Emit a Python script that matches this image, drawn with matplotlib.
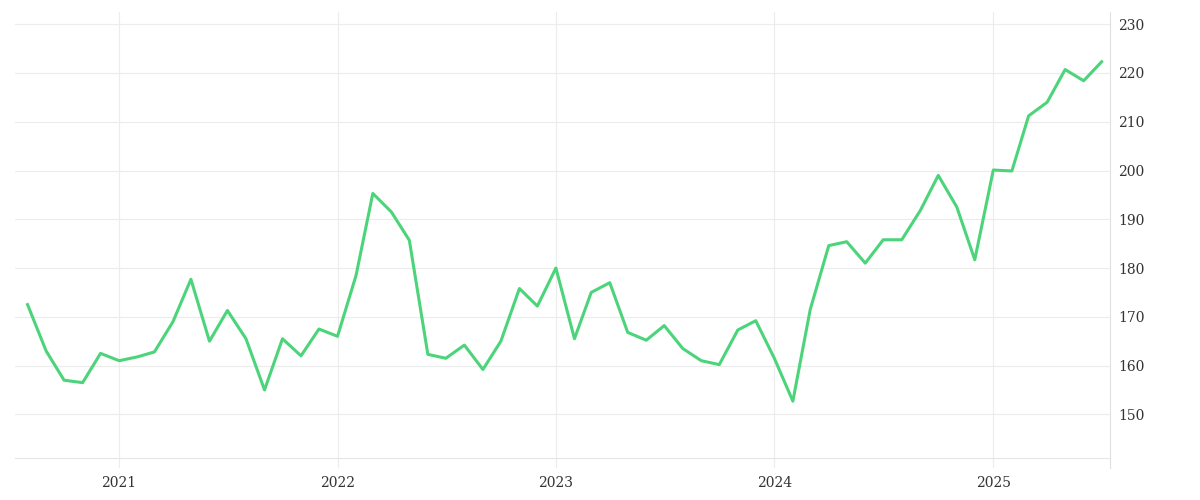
import matplotlib
matplotlib.use("Agg")
import matplotlib.pyplot as plt
import pandas as pd

dates = pd.date_range("2020-08-01", periods=60, freq="MS")
values = [172.5,163,157,156.5,162.5,161,161.8,162.8,169,177.7,165,171.3,165.5,155,165.5,162,167.5,166,
          178.5,195.3,191.5,185.7,162.3,161.5,164.2,159.2,165,175.8,172.2,180,165.5,175,177,166.8,165.2,
          168.2,163.5,161,160.2,167.3,169.2,161.5,152.7,171.5,184.6,185.4,181,185.8,185.8,191.8,199,192.5,
          181.7,200.1,199.9,211.2,214,220.7,218.4,222.3]
yticks = [150,160,170,180,190,200,210,220,230]
years = [2021,2022,2023,2024,2025]

fig = plt.figure(figsize=(12,5), dpi=100)
ax = fig.add_axes([0.0125, 0.064, 0.9125, 0.912])
ax.plot(dates, values, color="#4cd47b", lw=2.2)
ax.set_ylim(139, 232.5)
ax.set_xlim(pd.Timestamp("2020-07-11"), pd.Timestamp("2025-07-15"))
ax.axhline(141, color="#e6e6e6", lw=0.8)
ax.yaxis.tick_right()
ax.set_yticks(yticks)
ax.set_xticks([pd.Timestamp(f"{y}-01-01") for y in years])
ax.set_xticklabels([str(y) for y in years])
ax.grid(color="#ececec", lw=0.8)
for s in ["top","left","bottom"]:
    ax.spines[s].set_visible(False)
ax.spines["right"].set_color("#e0e0e0")
ax.tick_params(length=0, labelsize=10, colors="#333333", pad=6, labelfontfamily="DejaVu Serif")
fig.savefig("out.png")
